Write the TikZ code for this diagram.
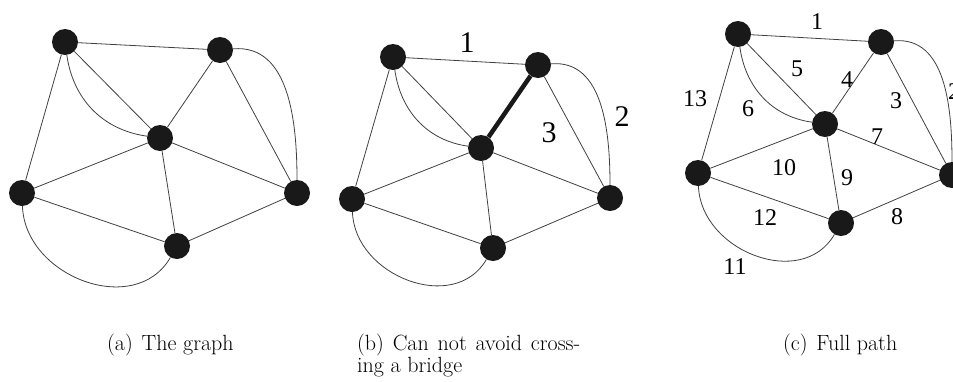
\documentclass[tikz,border=0pt]{standalone}
\usepackage{fontspec}
\newfontfamily\labfont{Liberation Serif}
\begin{document}
\begin{tikzpicture}[x=1pt,y=-1pt,
  vtx/.style={circle,fill=black!90,minimum size=26pt,inner sep=0pt},
  edge/.style={line width=0.8pt,draw=black!75},
  bridge/.style={line width=4.5pt,draw=black!90},
  blab/.style={font=\fontsize{30}{30}\labfont,inner sep=0pt},
  clab/.style={font=\fontsize{24}{24}\labfont,inner sep=0pt},
  captxt/.style={font=\fontsize{22}{22}\selectfont,inner sep=0pt,anchor=base west}]
\clip (0,0) rectangle (953,381);
% ---------- panel (a)
\node[vtx] (aA) at (65,42) {};
\node[vtx] (aB) at (220,50) {};
\node[vtx] (aC) at (160,138) {};
\node[vtx] (aD) at (22,193) {};
\node[vtx] (aE) at (297,193) {};
\node[vtx] (aF) at (177,246) {};
\draw[edge] (aA)--(aB) (aA)--(aC) (aA)--(aD) (aB)--(aC) (aB)--(aE)
  (aC)--(aD) (aC)--(aE) (aC)--(aF) (aD)--(aF) (aE)--(aF);
\draw[edge] (aA) to[out=-82,in=172] (aC);
\draw[edge] (aB) to[out=5,in=90] (aE);
\draw[edge] (aD) to[out=-88,in=-120,looseness=1.15] (aF);
% ---------- panel (b)
\node[vtx] (bA) at (393,57) {};
\node[vtx] (bB) at (538,65) {};
\node[vtx] (bC) at (481,148) {};
\node[vtx] (bD) at (352,199) {};
\node[vtx] (bE) at (610,198) {};
\node[vtx] (bF) at (493,248) {};
\draw[edge] (bA)--(bB) (bA)--(bC) (bA)--(bD) (bB)--(bE)
  (bC)--(bD) (bC)--(bE) (bC)--(bF) (bD)--(bF) (bE)--(bF);
\draw[bridge] (bB)--(bC);
\draw[edge] (bA) to[out=-82,in=172] (bC);
\draw[edge] (bB) to[out=5,in=90] (bE);
\draw[edge] (bD) to[out=-88,in=-120,looseness=1.15] (bF);
\node[blab] (b1) at (467,43) {1};
\node[blab] (b2) at (622,117) {2};
\node[blab] (b3) at (549,133) {3};
% ---------- panel (c)
\node[vtx] (cA) at (738,34) {};
\node[vtx] (cB) at (881,42) {};
\node[vtx] (cC) at (825,124) {};
\node[vtx] (cD) at (698,173) {};
\node[vtx] (cE) at (952,175) {};
\node[vtx] (cF) at (841,223) {};
\draw[edge] (cA)--(cB) (cA)--(cC) (cA)--(cD) (cB)--(cC) (cB)--(cE)
  (cC)--(cD) (cC)--(cE) (cC)--(cF) (cD)--(cF) (cE)--(cF);
\draw[edge] (cA) to[out=-82,in=172] (cC);
\draw[edge] (cB) to[out=5,in=90] (cE);
\draw[edge] (cD) to[out=-88,in=-120,looseness=1.15] (cF);
\node[clab] (c1) at (817,22) {1};
\node[clab] (c2) at (954,92) {2};
\node[clab] (c3) at (896,101) {3};
\node[clab] (c4) at (847,80) {4};
\node[clab] (c5) at (797,69) {5};
\node[clab] (c6) at (748,109) {6};
\node[clab] (c7) at (877,137) {7};
\node[clab] (c8) at (897,217) {8};
\node[clab] (c9) at (847,178) {9};
\node[clab] (c10) at (784,168) {10};
\node[clab] (c11) at (735,267) {11};
\node[clab] (c12) at (765,218) {12};
\node[clab] (c13) at (695,99) {13};
% ---------- captions
\node[captxt] (capa) at (107,350) {(a)\hspace{0.4em}The graph};
\node[captxt] (capb1) at (357,350) {\makebox[223pt][s]{(b)\hspace{0.4em}Can not avoid cross-}};
\node[captxt] (capb2) at (357,372) {ing a bridge};
\node[captxt] (capc) at (783,350) {(c)\hspace{0.4em}Full path};
\end{tikzpicture}
\end{document}
